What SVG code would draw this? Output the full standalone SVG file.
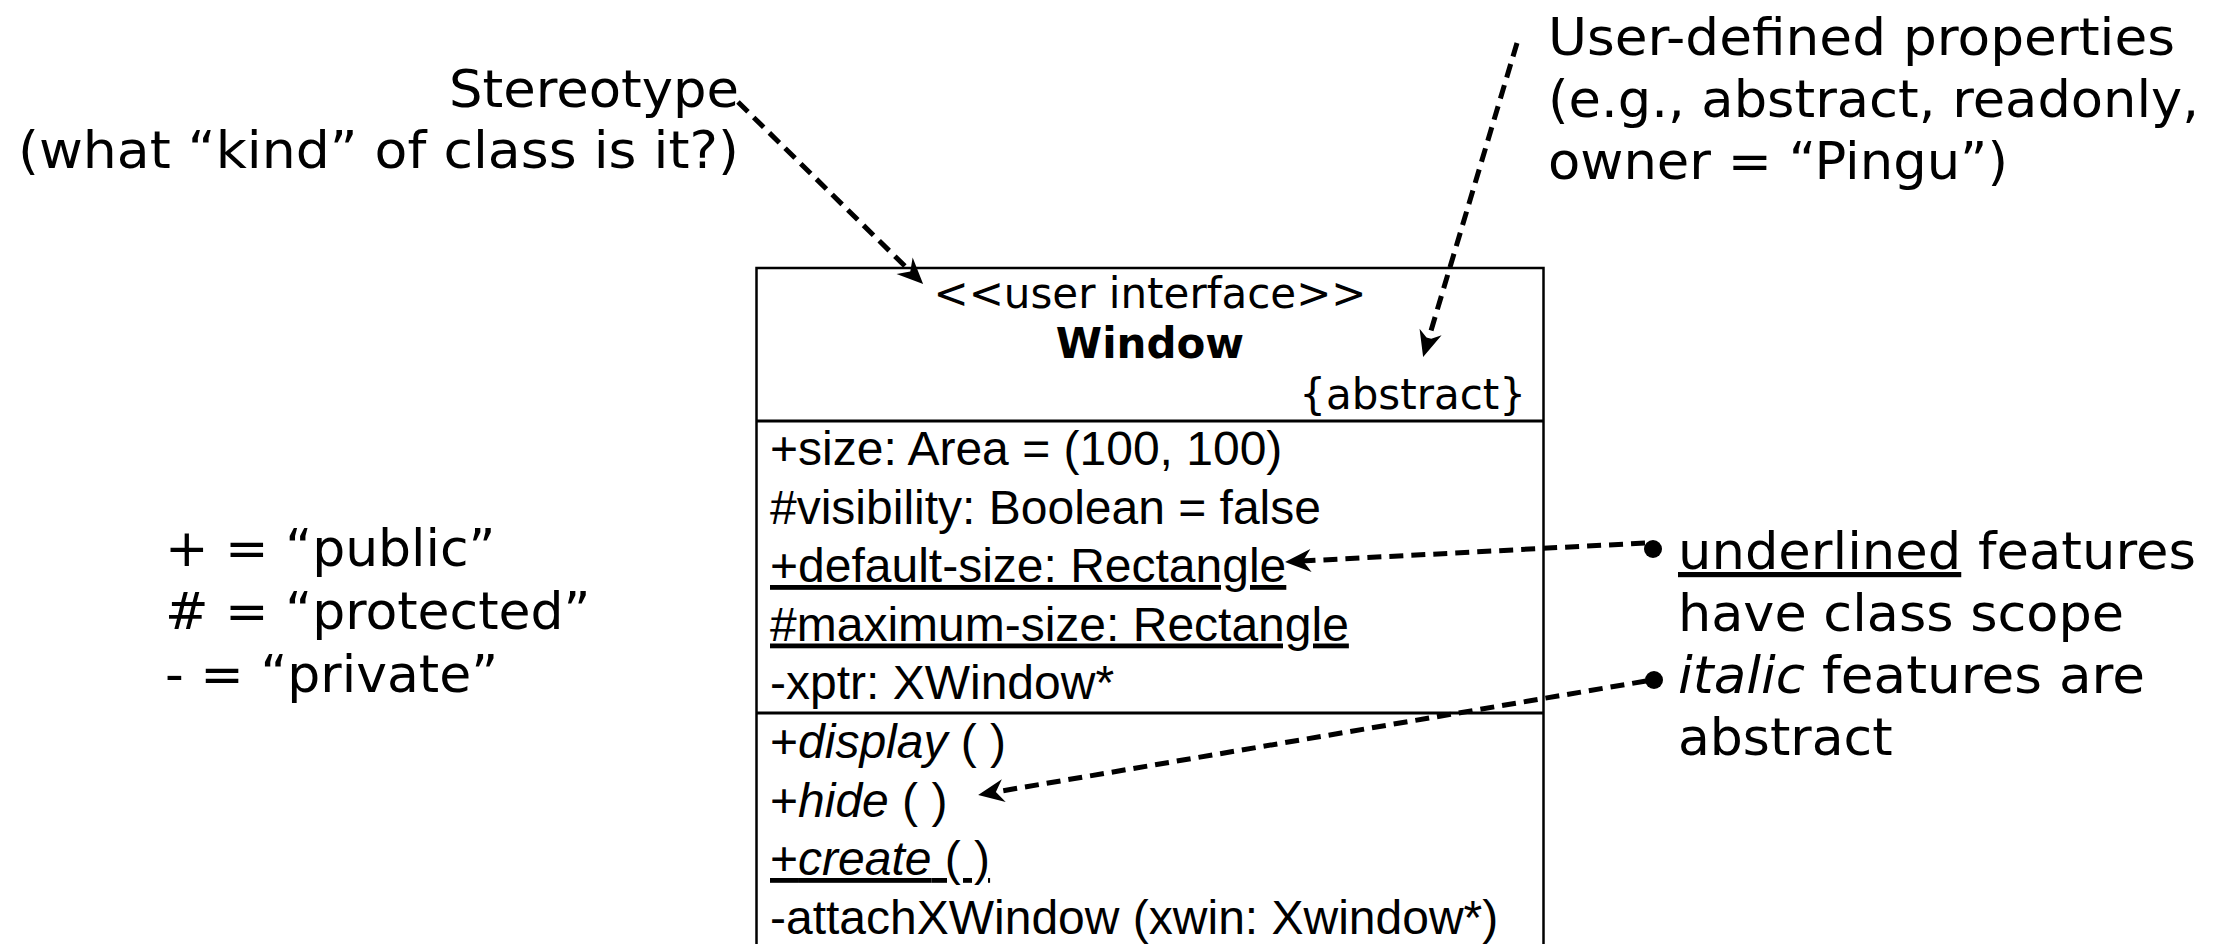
<svg xmlns="http://www.w3.org/2000/svg" width="2225" height="944" viewBox="0 0 2225 944">
  <style>
    .note { font-family: "DejaVu Sans", Verdana, sans-serif; font-size: 52px; fill: #000; }
    .head { font-family: "DejaVu Sans", Verdana, sans-serif; font-size: 42px; fill: #000; }
    .member { font-family: "Liberation Sans", Arial, Helvetica, sans-serif; font-size: 48px; fill: #000; }
    .u { text-decoration: underline; }
    .i { font-style: italic; }
    .frame { fill: #fff; stroke: #000; stroke-width: 2.5; }
    .sep { stroke: #000; stroke-width: 3; }
    .dash { fill: none; stroke: #000; stroke-width: 5; stroke-dasharray: 14 8; }
  </style>
  <defs>
    <marker id="arrow" viewBox="-27 -13 29 26" refX="-10" refY="0" markerWidth="29" markerHeight="26" markerUnits="userSpaceOnUse" orient="auto">
      <path d="M0,0 L-26,-11.5 L-18,0 L-26,11.5 Z" fill="#000"/>
    </marker>
  </defs>

  <rect width="2225" height="944" fill="#fff"/>

  <!-- class box: Window -->
  <g id="window-class">
    <rect class="frame" x="756.5" y="268" width="787" height="720"/>
    <line class="sep" x1="756.5" y1="421" x2="1543.5" y2="421"/>
    <line class="sep" x1="756.5" y1="713" x2="1543.5" y2="713"/>
    <text class="head" x="1150" y="308" text-anchor="middle">&lt;&lt;user interface&gt;&gt;</text>
    <text class="head" x="1150" y="358" text-anchor="middle" font-weight="bold">Window</text>
    <text class="head" x="1526" y="409" text-anchor="end">{abstract}</text>

    <text class="member" x="770" y="465">+size: Area = (100, 100)</text>
    <text class="member" x="770" y="523.5">#visibility: Boolean = false</text>
    <text class="member u" x="770" y="582">+default-size: Rectangle</text>
    <text class="member u" x="770" y="640.5">#maximum-size: Rectangle</text>
    <text class="member" x="770" y="699">-xptr: XWindow*</text>

    <text class="member" x="770" y="758">+<tspan class="i">display</tspan> ( )</text>
    <text class="member" x="770" y="816.5">+<tspan class="i">hide</tspan> ( )</text>
    <text class="member u" x="770" y="875">+<tspan class="i">create</tspan> ( )</text>
    <text class="member" x="770" y="933.5">-attachXWindow (xwin: Xwindow*)</text>
  </g>

  <!-- annotation: stereotype -->
  <g id="note-stereotype">
    <text class="note" x="739" y="107" text-anchor="end" textLength="290" lengthAdjust="spacingAndGlyphs">Stereotype</text>
    <text class="note" x="739" y="168" text-anchor="end" textLength="721" lengthAdjust="spacingAndGlyphs">(what “kind” of class is it?)</text>
  </g>

  <!-- annotation: tagged values -->
  <g id="note-properties">
    <text class="note" x="1548" y="55" textLength="627" lengthAdjust="spacingAndGlyphs">User-defined properties</text>
    <text class="note" x="1548" y="117" textLength="651" lengthAdjust="spacingAndGlyphs">(e.g., abstract, readonly,</text>
    <text class="note" x="1548" y="179" textLength="460" lengthAdjust="spacingAndGlyphs">owner = “Pingu”)</text>
  </g>

  <!-- annotation: visibility legend -->
  <g id="note-visibility">
    <text class="note" x="165" y="566">+ = “public”</text>
    <text class="note" x="165" y="629">#  = “protected”</text>
    <text class="note" x="165" y="692">- = “private”</text>
  </g>

  <!-- annotation: underlined / italic features -->
  <g id="note-features">
    <circle cx="1653" cy="549" r="9" fill="#000"/>
    <circle cx="1654" cy="680" r="9" fill="#000"/>
    <text class="note" x="1678" y="569" textLength="518" lengthAdjust="spacingAndGlyphs"><tspan class="u">underlined</tspan> features</text>
    <text class="note" x="1678" y="631" textLength="446" lengthAdjust="spacingAndGlyphs">have class scope</text>
    <text class="note" x="1678" y="693" textLength="467" lengthAdjust="spacingAndGlyphs"><tspan class="i">italic</tspan> features are</text>
    <text class="note" x="1678" y="755">abstract</text>
  </g>

  <!-- connectors -->
  <g id="connectors">
    <path class="dash" d="M738,102 L916,277" marker-end="url(#arrow)"/>
    <path class="dash" d="M1517,43 L1426,347.4" marker-end="url(#arrow)"/>
    <path class="dash" d="M1645,543 L1295,561.4" marker-end="url(#arrow)"/>
    <path class="dash" d="M1646,681 L988,793.3" marker-end="url(#arrow)"/>
  </g>
</svg>
